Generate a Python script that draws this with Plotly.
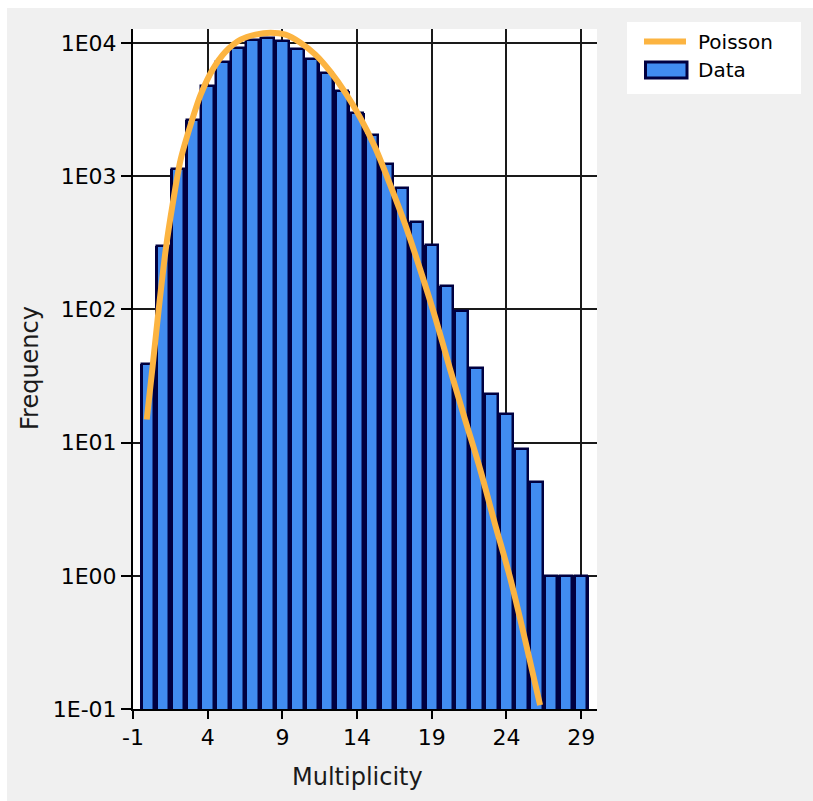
import plotly.graph_objects as go

# ---- data ----
multiplicity = [0, 1, 2, 3, 4, 5, 6, 7, 8, 9, 10, 11, 12, 13, 14,
                15, 16, 17, 18, 19, 20, 21, 22, 23, 24, 25, 26, 27, 28, 29]
frequency = [39, 298, 1140, 2660, 4790, 7160, 9170, 10600, 10900, 10300,
             9020, 7590, 6000, 4340, 2990, 2050, 1245, 810, 454, 307,
             151, 98, 36.5, 23, 16.5, 8.9, 5.1, 1, 1, 1]

# Poisson fit curve
poisson_x = [-0.08, 0.32, 0.72, 1.19, 1.65, 2.19, 2.86, 3.53, 4.33, 5.2, 6.2,
             7.2, 8.2, 9.21, 10.21, 11.21, 12.21, 13.21, 14.21, 15.21, 16.21,
             17.22, 18.22, 19.23, 20.23, 21.23, 22.24, 23.24, 24.24, 25.24, 26.25]
poisson_y = [14.9, 38, 100, 281, 612, 1334, 2440, 4090, 6310, 8610, 10590,
             11550, 11950, 11550, 10050, 8170, 6090, 4240, 2750, 1640, 865,
             434, 200, 87, 35.5, 14.9, 6.3, 2.43, 0.97, 0.333, 0.107]

x_tickvals = [-1, 4, 9, 14, 19, 24, 29]
x_ticktext = ["-1", "4", "9", "14", "19", "24", "29"]
y_tickvals = [0.1, 1, 10, 100, 1000, 10000]
y_ticktext = ["1E-01", "1E00", "1E01", "1E02", "1E03", "1E04"]

BLUE = "#418CF0"
NAVY = "#000040"
ORANGE = "#FCB441"
BG = "#F0F0F0"
FONT = "DejaVu Sans"

# plot area in pixels
W, H = 813, 801
L, R, T, B = 133, 597, 29, 709


def px(x):
    return (x - L) / (R - L)


def py(y):
    return (B - y) / (B - T)


fig = go.Figure()

# dark underlay (fills the space between bars)
fig.add_trace(go.Bar(x=multiplicity, y=frequency, width=1.0,
                     marker=dict(color=NAVY, line=dict(width=0)),
                     showlegend=False, hoverinfo="skip"))
# blue bars with navy border
fig.add_trace(go.Bar(x=multiplicity, y=frequency, width=0.83, name="Data",
                     marker=dict(color=BLUE, line=dict(color=NAVY, width=2.5)),
                     showlegend=False))
fig.add_trace(go.Scatter(x=poisson_x, y=poisson_y, mode="lines", name="Poisson",
                         line=dict(color=ORANGE, width=6, shape="spline", smoothing=0.8),
                         showlegend=False))

shapes = [
    # gray window background
    dict(type="rect", xref="paper", yref="paper", x0=px(7), x1=px(W + 5),
         y0=py(H + 5), y1=py(8), fillcolor=BG, line=dict(width=0), layer="below"),
    # white plot area
    dict(type="rect", xref="paper", yref="paper", x0=0, x1=1, y0=0, y1=1,
         fillcolor="white", line=dict(width=0), layer="below"),
    # legend box
    dict(type="rect", xref="paper", yref="paper", x0=px(627), x1=px(801),
         y0=py(94), y1=py(22), fillcolor="white", line=dict(width=0), layer="below"),
    # legend: Poisson line sample
    dict(type="line", xref="paper", yref="paper", x0=px(644), x1=px(686),
         y0=py(41.5), y1=py(41.5), line=dict(color=ORANGE, width=6), layer="below"),
    # legend: Data swatch
    dict(type="rect", xref="paper", yref="paper", x0=px(645.5), x1=px(687),
         y0=py(78), y1=py(62), fillcolor=BLUE, line=dict(color=NAVY, width=3), layer="below"),
]

annotations = [
    dict(text="Poisson", xref="paper", yref="paper", x=px(696), y=py(42),
         xanchor="left", yanchor="middle", showarrow=False,
         font=dict(family=FONT, size=20, color="#000")),
    dict(text="Data", xref="paper", yref="paper", x=px(696), y=py(70),
         xanchor="left", yanchor="middle", showarrow=False,
         font=dict(family=FONT, size=20, color="#000")),
    dict(text="Multiplicity", xref="paper", yref="paper", x=px(357), y=py(777),
         xanchor="center", yanchor="middle", showarrow=False,
         font=dict(family=FONT, size=24, color="#1a1a1a")),
    dict(text="Frequency", xref="paper", yref="paper", x=px(30), y=py(368),
         xanchor="center", yanchor="middle", showarrow=False, textangle=-90,
         font=dict(family=FONT, size=24, color="#1a1a1a")),
]

fig.update_layout(
    width=W, height=H,
    margin=dict(l=L, r=W - R, t=T, b=H - B, pad=0),
    paper_bgcolor="white",
    plot_bgcolor="white",
    barmode="overlay",
    bargap=0,
    showlegend=False,
    shapes=shapes,
    annotations=annotations,
    font=dict(family=FONT, size=22, color="#000"),
)

fig.update_xaxes(
    range=[-1, 30.06], tickvals=x_tickvals, ticktext=x_ticktext,
    showgrid=True, gridcolor="#1a1a1a", gridwidth=2,
    showline=True, linecolor="#000", linewidth=2,
    ticks="outside", ticklen=8, tickwidth=2, tickcolor="#000",
    zeroline=False, tickfont=dict(family=FONT, size=22, color="#000"),
)
fig.update_yaxes(
    type="log", range=[-1, 4.105], tickvals=y_tickvals, ticktext=y_ticktext,
    showgrid=True, gridcolor="#1a1a1a", gridwidth=2,
    showline=True, linecolor="#000", linewidth=2,
    ticks="outside", ticklen=10, tickwidth=2, tickcolor="#000",
    zeroline=False, tickfont=dict(family=FONT, size=22, color="#000"),
)

fig.write_html("out.html", config={"displayModeBar": False})
